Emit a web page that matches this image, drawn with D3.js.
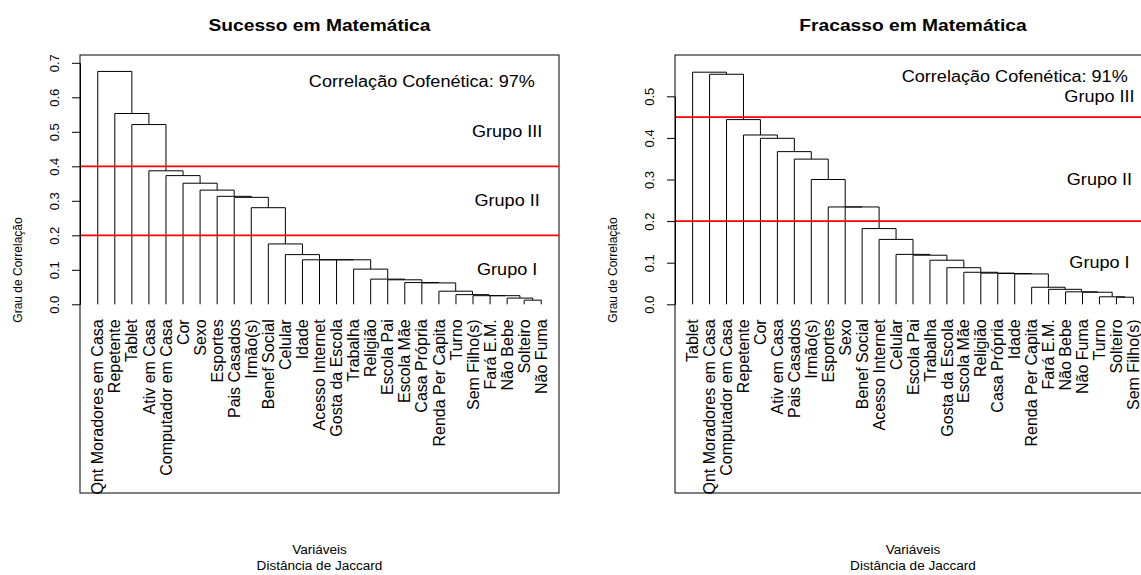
<!DOCTYPE html>
<html><head><meta charset="utf-8">
<script src="https://cdn.jsdelivr.net/npm/d3@7"></script>
<style>
html,body{margin:0;padding:0;background:#fff;}
svg{display:block;font-family:"Liberation Sans",Arial,Helvetica,sans-serif;}
</style></head><body>
<svg id="chart" width="1141" height="575"></svg>
<script>
// ---- data ----
const sucessoTitle = "Sucesso em Matemática";
const sucessoLabels = ["Qnt Moradores em Casa","Repetente","Tablet","Ativ em Casa","Computador em Casa","Cor","Sexo","Esportes","Pais Casados","Irmão(s)","Benef Social","Celular","Idade","Acesso Internet","Gosta da Escola","Trabalha","Religião","Escola Pai","Escola Mãe","Casa Própria","Renda Per Capita","Turno","Sem Filho(s)","Fará E.M.","Não Bebe","Solteiro","Não Fuma"];
// merge height of leaf k with the remaining cluster (chain dendrogram)
const sucessoHeights = [0.675,0.553,0.521,0.387,0.373,0.351,0.331,0.313,0.310,0.280,0.175,0.144,0.129,0.129,0.129,0.102,0.073,0.071,0.063,0.062,0.038,0.028,0.025,0.025,0.018,0.012];
const sucessoTicks = [0,0.1,0.2,0.3,0.4,0.5,0.6,0.7];
const sucessoCuts = [0.2,0.4];
const sucessoCofenetica = "Correlação Cofenética: 97%";

const fracassoTitle = "Fracasso em Matemática";
const fracassoLabels = ["Tablet","Qnt Moradores em Casa","Computador em Casa","Repetente","Cor","Ativ em Casa","Pais Casados","Irmão(s)","Esportes","Sexo","Benef Social","Acesso Internet","Celular","Escola Pai","Trabalha","Gosta da Escola","Escola Mãe","Religião","Casa Própria","Idade","Renda Per Capita","Fará E.M.","Não Bebe","Não Fuma","Turno","Solteiro","Sem Filho(s)"];
const fracassoHeights = [0.558,0.553,0.444,0.407,0.399,0.367,0.349,0.300,0.234,0.234,0.182,0.156,0.120,0.118,0.106,0.088,0.077,0.075,0.074,0.073,0.041,0.036,0.030,0.029,0.018,0.017];
const fracassoTicks = [0,0.1,0.2,0.3,0.4,0.5];
const fracassoCuts = [0.2,0.45];
const fracassoCofenetica = "Correlação Cofenética: 91%";

const grupoLabels = ["Grupo I","Grupo II","Grupo III"];
const grupoY = [0.1,0.3,0.5];
const xLabel = "Variáveis";
const subLabel = "Distância de Jaccard";
const yLabel = "Grau de Correlação";

// ---- drawing ----
const svg = d3.select("#chart");
const SX = 1.13; // horizontal stretch of the original picture

function hText(g, x, y, txt, size, weight, anchor) {
  return g.append("text")
    .attr("transform", `translate(${x},${y}) scale(${SX},1)`)
    .attr("text-anchor", anchor || "middle")
    .attr("dy", "0.35em")
    .style("font-size", size + "px")
    .style("font-weight", weight || "normal")
    .attr("fill", "#000")
    .text(txt);
}

function panel(cfg) {
  const g = svg.append("g");
  const n = cfg.labels.length;
  const ext = 0.04 * (n - 1);
  const x = d3.scaleLinear().domain([1 - ext, n + ext]).range([cfg.left, cfg.right]);
  const y = d3.scaleLinear().domain([0, cfg.yTop]).range([cfg.zeroY, cfg.topY]);

  // box
  g.append("rect").attr("x", cfg.left).attr("y", cfg.boxTop)
    .attr("width", cfg.right - cfg.left).attr("height", cfg.boxBottom - cfg.boxTop)
    .attr("fill", "none").attr("stroke", "#000").attr("stroke-width", 1);

  // chain dendrogram: node k joins leaf k with node k+1
  const h = cfg.heights;
  const m = h.length; // n-1
  const cx = new Array(m);
  cx[m - 1] = (x(m) + x(m + 1)) / 2;
  for (let k = m - 2; k >= 0; k--) cx[k] = (x(k + 1) + cx[k + 1]) / 2;
  const segs = [];
  for (let k = 0; k < m; k++) {
    const xl = x(k + 1);
    const xr = k === m - 1 ? x(m + 1) : cx[k + 1];
    const hr = k === m - 1 ? 0 : h[k + 1];
    segs.push(`M${xl},${y(0)}V${y(h[k])}H${xr}V${y(hr)}`);
  }
  g.selectAll("path.den").data(segs).enter().append("path")
    .attr("class", "den").attr("d", d => d)
    .attr("fill", "none").attr("stroke", "#000").attr("stroke-width", 1);

  // cut lines
  g.selectAll("line.cut").data(cfg.cuts).enter().append("line")
    .attr("x1", cfg.left).attr("x2", cfg.right)
    .attr("y1", d => y(d)).attr("y2", d => y(d))
    .attr("stroke", "#ff0000").attr("stroke-width", 1.8);

  // axis
  const ax = g.append("g").attr("transform", `translate(${cfg.left},0)`)
    .call(d3.axisLeft(y).tickValues(cfg.ticks).tickFormat(d3.format(".1f")).tickSize(8).tickSizeOuter(0));
  ax.select(".domain").attr("stroke", "#000");
  ax.selectAll(".tick line").attr("stroke", "#000");
  ax.selectAll(".tick text")
    .attr("x", null).attr("dy", "0.35em")
    .attr("transform", "translate(-26,0) rotate(-90)")
    .attr("text-anchor", "middle")
    .attr("fill", "#000")
    .style("font-size", "13px")
    .style("font-family", '"Liberation Sans",Arial,sans-serif');

  // leaf labels
  g.selectAll("text.leaf").data(cfg.labels).enter().append("text")
    .attr("class", "leaf")
    .attr("transform", (d, i) => `translate(${x(i + 1)},${y(0) + 15}) rotate(-90)`)
    .attr("text-anchor", "end").attr("dy", "0.35em")
    .style("font-size", "16px").attr("fill", "#000")
    .text(d => d);

  // annotations
  hText(g, x(20), y(cfg.cophY), cfg.coph, 16);
  grupoLabels.forEach((t, i) => hText(g, x(25), y(grupoY[i]), t, 16));

  // titles
  const mid = (cfg.left + cfg.right) / 2;
  g.append("text")
    .attr("transform", `translate(${mid},31) scale(${SX},1)`)
    .attr("text-anchor", "middle")
    .style("font-size", "17px").style("font-weight", "bold").attr("fill", "#000")
    .text(cfg.title);
  hText(g, mid, 550, xLabel, 12);
  hText(g, mid, 566, subLabel, 12);

  // y label
  g.append("text")
    .attr("transform", `translate(${cfg.left - 62},270) rotate(-90)`)
    .attr("text-anchor", "middle").attr("dy", "0.35em")
    .style("font-size", "12px").attr("fill", "#000")
    .text(yLabel);
}

panel({
  title: sucessoTitle, labels: sucessoLabels, heights: sucessoHeights,
  ticks: sucessoTicks, cuts: sucessoCuts, coph: sucessoCofenetica, cophY: 0.645,
  left: 80, right: 559, boxTop: 55, boxBottom: 493,
  yTop: 0.7, zeroY: 304.3, topY: 62.8
});
panel({
  title: fracassoTitle, labels: fracassoLabels, heights: fracassoHeights,
  ticks: fracassoTicks, cuts: fracassoCuts, coph: fracassoCofenetica, cophY: 0.548,
  left: 675, right: 1151, boxTop: 55, boxBottom: 493,
  yTop: 0.5, zeroY: 304.3, topY: 96.3
});
</script>
</body></html>
